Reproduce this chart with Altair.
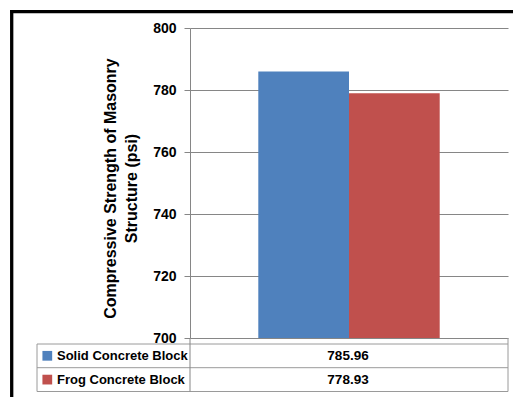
import altair as alt
import pandas as pd

# Data
series = ["Solid Concrete Block", "Frog Concrete Block"]
strength = [785.96, 778.93]
bar_colors = ["#4F81BD", "#C0504D"]
y_ticks = [700, 720, 740, 760, 780, 800]
y_title = ["Compressive Strength of Masonry", "Structure (psi)"]

df = pd.DataFrame({"series": series, "strength": strength})
df["label"] = df["strength"].map(lambda v: f"{v:.2f}")

# Layout (plot area is W x H, everything else lives in the padding)
W, H = 318, 310
PAD = {"left": 190, "top": 28, "right": 5, "bottom": 59}
FONT = "Liberation Sans"
GRID = "#868686"
TABLE_LINE = "#9A9A9A"

# data-table geometry, relative to the plot origin
TBL_LEFT = -153
TBL_TOP, TBL_MID, TBL_BOTTOM = 316, 339.7, 363.5
ROW_CENTERS = [327.8, 351.6]
KEY_X = -142.7
NAME_X = -133
VALUE_X = W / 2 - 1

color = alt.Color(
    "series:N",
    scale=alt.Scale(domain=series, range=bar_colors),
    legend=None,
)

base = alt.Chart(df)

bars = base.mark_bar(clip=True).encode(
    x=alt.X(
        "series:N",
        sort=series,
        axis=None,
        scale=alt.Scale(paddingInner=0, paddingOuter=0.753),
    ),
    y=alt.Y(
        "strength:Q",
        scale=alt.Scale(domain=[700, 800], zero=False, nice=False),
        axis=alt.Axis(
            values=y_ticks,
            title=y_title,
            grid=True,
            gridColor=GRID,
            gridWidth=1,
            domainColor=GRID,
            tickColor=GRID,
            tickSize=6,
            labelPadding=8,
            labelFont=FONT,
            labelFontSize=14,
            labelFontWeight="bold",
            labelColor="black",
            titleFont=FONT,
            titleFontSize=16,
            titleFontWeight="bold",
            titleColor="black",
            titleAngle=270,
            titleX=-75,
            titleY=160,
            titleAlign="center",
            titleBaseline="alphabetic",
            titleLineHeight=21,
        ),
    ),
    color=color,
)

row_y = alt.Y(
    "series:N",
    sort=series,
    axis=None,
    scale=alt.Scale(type="point", domain=series, range=ROW_CENTERS, padding=0),
)

keys = base.mark_square(size=95, opacity=1).encode(
    x=alt.value(KEY_X), y=row_y, color=color
)

names = base.mark_text(
    align="left", baseline="middle", font=FONT, fontSize=13, fontWeight="bold", color="black"
).encode(x=alt.value(NAME_X), y=row_y, text="series:N")

values = base.mark_text(
    align="center", baseline="middle", font=FONT, fontSize=13.5, fontWeight="bold", color="black"
).encode(x=alt.value(VALUE_X), y=row_y, text="label:N")


def hline(y, x1, x2, color_, width=1):
    return alt.Chart(df.head(1)).mark_rule(color=color_, strokeWidth=width).encode(
        x=alt.value(x1), x2=alt.value(x2), y=alt.value(y)
    )


def vline(x, y1, y2, color_, width=1):
    return alt.Chart(df.head(1)).mark_rule(color=color_, strokeWidth=width).encode(
        x=alt.value(x), y=alt.value(y1), y2=alt.value(y2)
    )


table_lines = [
    hline(TBL_TOP, TBL_LEFT, W, TABLE_LINE),
    hline(TBL_MID, TBL_LEFT, W, TABLE_LINE),
    hline(TBL_BOTTOM, TBL_LEFT, W, TABLE_LINE),
    vline(TBL_LEFT, TBL_TOP, TBL_BOTTOM, TABLE_LINE),
    vline(0, H, TBL_BOTTOM, GRID),
    vline(W, H, TBL_BOTTOM, TABLE_LINE),
]

# outer frame of the chart object
frame = [
    hline(-16.3, -179.8, W + 20, "black", 3.3),
    vline(-178.3, -18, H + 80, "black", 3.3),
]

chart = (
    alt.layer(bars, *table_lines, keys, names, values, *frame)
    .resolve_scale(y="independent")
    .properties(width=W, height=H, padding=PAD, autosize="none", background="white")
    .configure_view(stroke=None)
)

chart.save("out.html", embed_options={"renderer": "svg", "actions": False})
